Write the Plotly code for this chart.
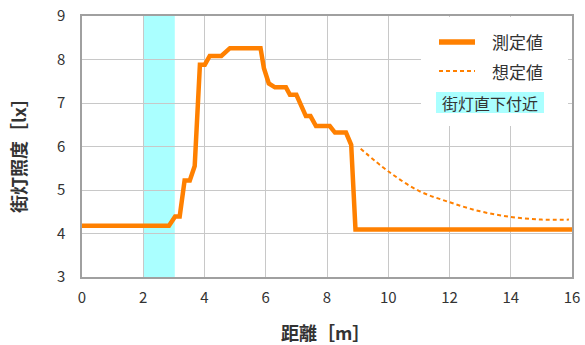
import plotly.graph_objects as go

# ---- data ----
meas_x = [0, 2.84, 3.04, 3.19, 3.35, 3.52, 3.68, 3.85, 4.01, 4.17, 4.55, 4.83, 5.83, 5.94, 6.10,
          6.30, 6.66, 6.79, 7.00, 7.17, 7.31, 7.46, 7.64, 8.09, 8.26, 8.62, 8.79, 8.93, 16]
meas_y = [4.18, 4.18, 4.39, 4.39, 5.22, 5.22, 5.55, 7.88, 7.88, 8.08, 8.08, 8.26, 8.26, 7.80, 7.45,
          7.36, 7.36, 7.19, 7.19, 6.92, 6.70, 6.70, 6.47, 6.47, 6.32, 6.32, 6.04, 4.09, 4.09]
est_x = [9.1, 10.0, 11.0, 12.0, 13.0, 14.0, 15.0, 15.9]
est_y = [5.95, 5.43, 4.98, 4.72, 4.51, 4.38, 4.32, 4.32]
band_x = [2.0, 3.03]
x_ticks = [0, 2, 4, 6, 8, 10, 12, 14, 16]
y_ticks = [3, 4, 5, 6, 7, 8, 9]
name_meas = "測定値"
name_est = "想定値"
name_band = "街灯直下付近"
x_title = "距離［m］"
y_title = "街灯照度［lx］"

ORANGE = "#ff8000"
CYAN = "#aaffff"
FONT = "Noto Sans CJK JP"
TXT = "#333333"

W, H = 585, 345
L, R, T, B = 82, 13, 16, 68
PW, PH = W - L - R, H - T - B


def px(x):
    return (x - L) / PW


def py(y):
    return (H - B - y) / PH


fig = go.Figure()
fig.add_trace(go.Scatter(x=meas_x, y=meas_y, mode="lines", name=name_meas,
                         line=dict(color=ORANGE, width=4.5), showlegend=False))
fig.add_trace(go.Scatter(x=est_x, y=est_y, mode="lines", name=name_est,
                         line=dict(color=ORANGE, width=2, dash="4px,3px", shape="spline"),
                         showlegend=False))

shapes = [
    dict(type="rect", xref="x", yref="paper", x0=band_x[0], x1=band_x[1], y0=0, y1=1,
         fillcolor=CYAN, line=dict(width=0), layer="between"),
    # legend box
    dict(type="rect", xref="paper", yref="paper", x0=px(421), x1=px(568), y0=py(126), y1=py(17),
         fillcolor="white", line=dict(width=0), layer="above"),
    dict(type="line", xref="paper", yref="paper", x0=px(439), x1=px(475), y0=py(42), y1=py(42),
         line=dict(color=ORANGE, width=5.5), layer="above"),
    dict(type="line", xref="paper", yref="paper", x0=px(439), x1=px(475), y0=py(71), y1=py(71),
         line=dict(color=ORANGE, width=2, dash="4px,3px"), layer="above"),
    dict(type="rect", xref="paper", yref="paper", x0=px(436), x1=px(544), y0=py(113), y1=py(92),
         fillcolor=CYAN, line=dict(width=0), layer="above"),
]

annotations = [
    dict(text=name_meas, xref="paper", yref="paper", x=px(490), y=py(42), xanchor="left",
         yanchor="middle", showarrow=False, font=dict(family=FONT, size=17, color=TXT)),
    dict(text=name_est, xref="paper", yref="paper", x=px(490), y=py(71), xanchor="left",
         yanchor="middle", showarrow=False, font=dict(family=FONT, size=17, color=TXT)),
    dict(text=name_band, xref="paper", yref="paper", x=px(490), y=py(102.5), xanchor="center",
         yanchor="middle", showarrow=False, font=dict(family=FONT, size=16, color=TXT)),
    dict(text=x_title, xref="paper", yref="paper", x=px(325), y=py(331.5), xanchor="center",
         yanchor="middle", showarrow=False, font=dict(family=FONT, size=18, color=TXT, weight="bold")),
    dict(text=y_title, xref="paper", yref="paper", x=px(18), y=py(151), xanchor="center",
         yanchor="middle", showarrow=False, textangle=-90,
         font=dict(family=FONT, size=18, color=TXT, weight="bold")),
]

fig.update_layout(
    width=W, height=H,
    margin=dict(l=L, r=R, t=T, b=B, autoexpand=False),
    paper_bgcolor="white", plot_bgcolor="white",
    font=dict(family=FONT, size=15, color=TXT),
    shapes=shapes, annotations=annotations,
    xaxis=dict(range=[0, 16], tickvals=x_ticks, ticktext=[str(v) for v in x_ticks],
               showgrid=True, gridcolor="#c8c8c8", gridwidth=1, automargin=False,
               showline=True, linecolor="#a0a0a0", linewidth=1.5, mirror=True,
               ticks="outside", ticklen=6, tickcolor="rgba(0,0,0,0)", zeroline=False,
               tickfont=dict(family=FONT, size=15, color=TXT)),
    yaxis=dict(range=[3, 9], tickvals=y_ticks, ticktext=[str(v) for v in y_ticks],
               showgrid=True, gridcolor="#c8c8c8", gridwidth=1, automargin=False,
               showline=True, linecolor="#a0a0a0", linewidth=1.5, mirror=True,
               ticks="outside", ticklen=12, tickcolor="rgba(0,0,0,0)", zeroline=False,
               tickfont=dict(family=FONT, size=15, color=TXT)),
)

fig.write_html("out.html", config={"displayModeBar": False},
               post_script="document.body.style.margin='0';document.body.style.padding='0';")
